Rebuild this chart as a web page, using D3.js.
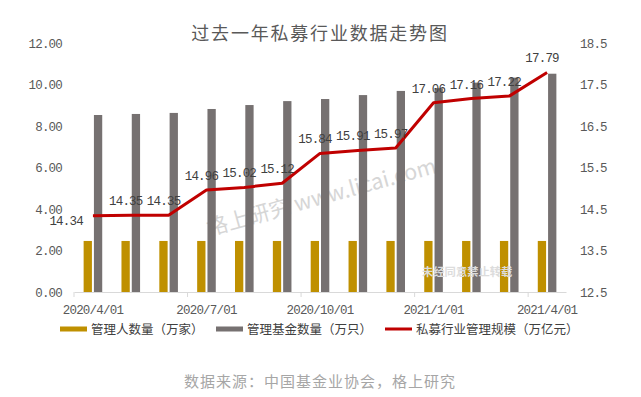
<!DOCTYPE html>
<html>
<head>
<meta charset="utf-8">
<script src="https://cdn.jsdelivr.net/npm/d3@7"></script>
<style>
  body { margin: 0; background: #fff; }
  svg { display: block; }
</style>
</head>
<body>
<script>
// months shown on the x axis (one bar group per month)
var months = ["2020/4/01", "2020/5/01", "2020/6/01", "2020/7/01", "2020/8/01", "2020/9/01",
              "2020/10/01", "2020/11/01", "2020/12/01", "2021/1/01", "2021/2/01", "2021/3/01", "2021/4/01"];
var shownMonths = ["2020/4/01", "2020/7/01", "2020/10/01", "2021/1/01", "2021/4/01"];

// 管理人数量（万家）
var managers = [2.46, 2.46, 2.46, 2.46, 2.46, 2.46, 2.46, 2.46, 2.46, 2.46, 2.46, 2.46, 2.46];
// 管理基金数量（万只）
var funds = [8.53, 8.58, 8.63, 8.82, 9.01, 9.20, 9.30, 9.49, 9.69, 9.82, 10.09, 10.33, 10.52];
// 私募行业管理规模（万亿元）
var scale = [14.34, 14.35, 14.35, 14.96, 15.02, 15.12, 15.84, 15.91, 15.97, 17.06, 17.16, 17.22, 17.79];

var leftTicks = [0, 2, 4, 6, 8, 10, 12];
var rightTicks = [12.5, 13.5, 14.5, 15.5, 16.5, 17.5, 18.5];

var width = 641, height = 397;
var margin = { left: 74, right: 75, top: 43, bottom: 105 };

var svg = d3.select("body").append("svg")
    .attr("width", width)
    .attr("height", height);

var x = d3.scaleBand()
    .domain(months)
    .range([margin.left, width - margin.right]);

var yL = d3.scaleLinear().domain([0, 12]).range([height - margin.bottom, margin.top]);
var yR = d3.scaleLinear().domain([12.5, 18.5]).range([height - margin.bottom, margin.top]);

var numFont = "'Liberation Mono', 'DejaVu Sans Mono', monospace";
var cjkFont = "'Noto Sans CJK SC', sans-serif";

// title
svg.append("text")
    .attr("x", 320).attr("y", 40)
    .attr("text-anchor", "middle")
    .attr("font-family", cjkFont)
    .attr("font-size", 18)
    .attr("letter-spacing", 1.8)
    .attr("fill", "#595959")
    .text("过去一年私募行业数据走势图");

// watermark behind the bars
svg.append("text")
    .attr("transform", "translate(209,236) rotate(-15.5)")
    .attr("font-family", cjkFont)
    .attr("font-size", 21.5)
    .attr("fill", "#d6d6d6")
    .text("格上研究  www.licai.com");

var bw = 8.3;

svg.append("g").selectAll("rect")
    .data(managers)
    .join("rect")
    .attr("x", function(d, i) { return x(months[i]) + x.bandwidth() / 2 - bw - 1; })
    .attr("y", function(d) { return yL(d); })
    .attr("width", bw)
    .attr("height", function(d) { return yL(0) - yL(d); })
    .attr("fill", "#bf9000");

svg.append("g").selectAll("rect")
    .data(funds)
    .join("rect")
    .attr("x", function(d, i) { return x(months[i]) + x.bandwidth() / 2 + 1; })
    .attr("y", function(d) { return yL(d); })
    .attr("width", bw)
    .attr("height", function(d) { return yL(0) - yL(d); })
    .attr("fill", "#767171");

// left axis
var gL = svg.append("g")
    .attr("transform", "translate(" + margin.left + ",0)")
    .call(d3.axisLeft(yL).tickValues(leftTicks).tickFormat(d3.format(".2f")).tickSize(0).tickPadding(12));
gL.select(".domain").remove();

// right axis
var gR = svg.append("g")
    .attr("transform", "translate(" + (width - margin.right) + ",0)")
    .call(d3.axisRight(yR).tickValues(rightTicks).tickFormat(d3.format(".1f")).tickSize(0).tickPadding(14));
gR.select(".domain").remove();

// bottom axis
var gB = svg.append("g")
    .attr("transform", "translate(0," + yL(0) + ")")
    .call(d3.axisBottom(x).tickValues(shownMonths).tickSize(0).tickPadding(13));
gB.select(".domain").attr("stroke", "#d9d9d9");

[gL, gR, gB].forEach(function(g) {
    g.selectAll("text")
        .attr("font-family", numFont)
        .attr("font-size", 12.5)
        .attr("letter-spacing", -0.8)
        .attr("fill", "#595959");
});

// category tick marks, every third boundary
svg.append("g").selectAll("line")
    .data([0, 3, 6, 9, 12])
    .join("line")
    .attr("x1", function(i) { return x(months[i]); })
    .attr("x2", function(i) { return x(months[i]); })
    .attr("y1", yL(0))
    .attr("y2", yL(0) + 5)
    .attr("stroke", "#d9d9d9");

// scale line
var line = d3.line()
    .x(function(d, i) { return x(months[i]) + x.bandwidth() / 2; })
    .y(function(d) { return yR(d); });

svg.append("path")
    .datum(scale)
    .attr("d", line)
    .attr("fill", "none")
    .attr("stroke", "#c00000")
    .attr("stroke-width", 3)
    .attr("stroke-linejoin", "round");

// data labels
svg.append("g").selectAll("text")
    .data(scale)
    .join("text")
    .attr("x", function(d, i) {
        var cx = x(months[i]) + x.bandwidth() / 2;
        return i === 0 ? cx - 10 : cx - 5;
    })
    .attr("y", function(d, i) { return i === 0 ? yR(d) + 9 : yR(d) - 10; })
    .attr("text-anchor", function(d, i) { return i === 0 ? "end" : "middle"; })
    .attr("font-family", numFont)
    .attr("font-size", 12.5)
    .attr("letter-spacing", -0.8)
    .attr("fill", "#404040")
    .text(function(d) { return d.toFixed(2); });

svg.append("text")
    .attr("x", 422).attr("y", 276)
    .attr("font-family", cjkFont)
    .attr("font-size", 11.3)
    .attr("font-weight", "bold")
    .attr("fill", "#dcdcdc")
    .text("未经同意禁止转载");

// legend
var legend = [
    { name: "管理人数量（万家）", color: "#bf9000", x: 60, type: "bar" },
    { name: "管理基金数量（万只）", color: "#767171", x: 216, type: "bar" },
    { name: "私募行业管理规模（万亿元）", color: "#c00000", x: 385, type: "line" }
];
var lg = svg.append("g").selectAll("g")
    .data(legend)
    .join("g")
    .attr("transform", function(d) { return "translate(" + d.x + ",329)"; });

lg.append("rect")
    .attr("x", 0)
    .attr("y", function(d) { return d.type === "bar" ? -2.5 : -1.5; })
    .attr("width", 27)
    .attr("height", function(d) { return d.type === "bar" ? 5 : 3; })
    .attr("fill", function(d) { return d.color; });

lg.append("text")
    .attr("x", 31)
    .attr("y", 4.5)
    .attr("font-family", cjkFont)
    .attr("font-size", 12.5)
    .attr("fill", "#404040")
    .text(function(d) { return d.name; });

// source
svg.append("text")
    .attr("x", 320).attr("y", 387)
    .attr("text-anchor", "middle")
    .attr("font-family", cjkFont)
    .attr("font-size", 15)
    .attr("letter-spacing", 1)
    .attr("fill", "#a6a6a6")
    .text("数据来源：中国基金业协会，格上研究");
</script>
</body>
</html>
